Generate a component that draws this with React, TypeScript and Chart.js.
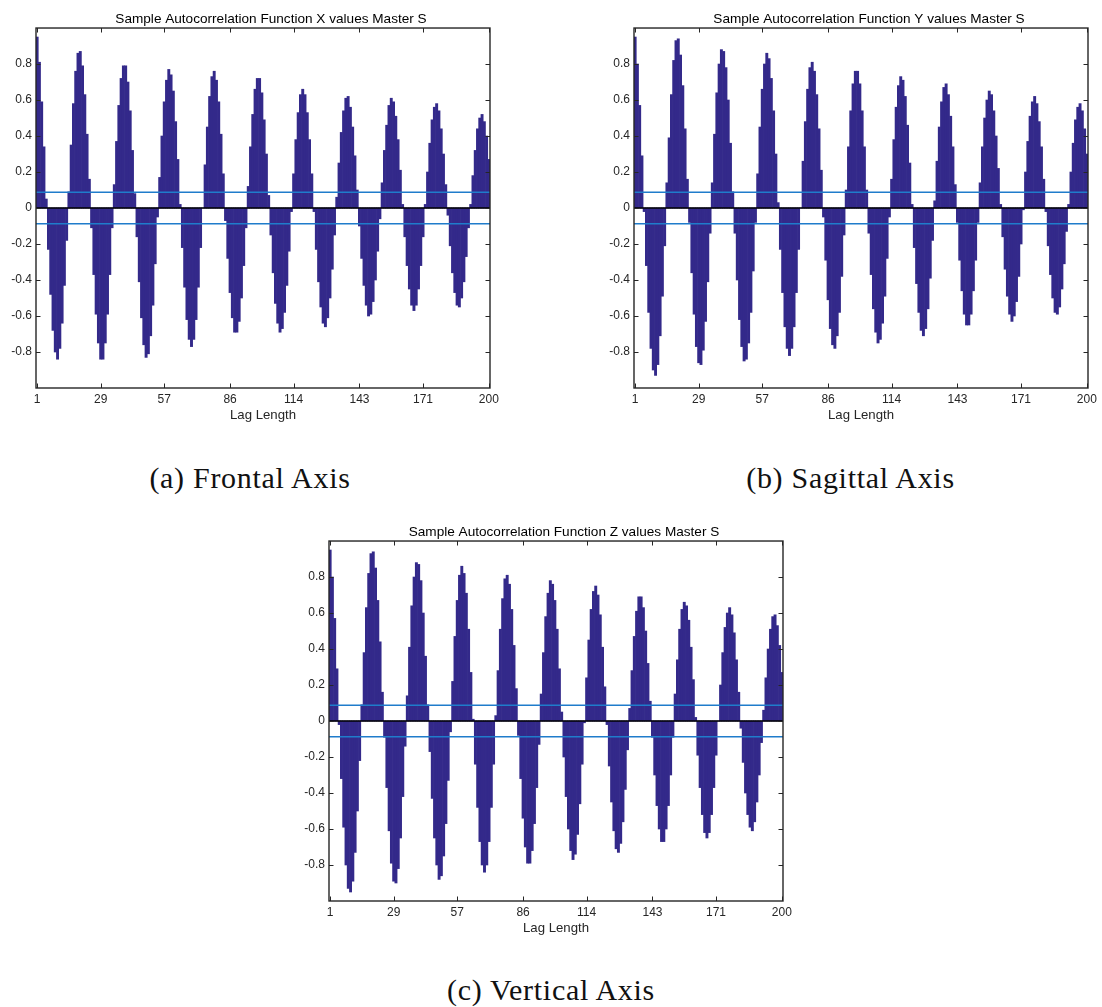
import React, { useEffect, useRef } from "react";
import { Chart, registerables } from "chart.js";

Chart.register(...registerables);

// Lag axis ticks and correlation ticks
const X_TICKS = [1, 29, 57, 86, 114, 143, 171, 200];
const Y_TICKS = [-0.8, -0.6, -0.4, -0.2, 0, 0.2, 0.4, 0.6, 0.8];

// Approximate 95% confidence bound of the sample autocorrelation
const CONF_BOUND = 0.0877;

// Sample autocorrelation, lags 1..200, frontal (X) signal
const ACF_X = [
  0.95, 0.81, 0.59, 0.34, 0.05, -0.23, -0.48, -0.68, -0.80, -0.84,
  -0.78, -0.64, -0.43, -0.18, 0.09, 0.35, 0.58, 0.76, 0.86, 0.87,
  0.79, 0.63, 0.41, 0.16, -0.11, -0.37, -0.59, -0.75, -0.84, -0.84,
  -0.75, -0.59, -0.37, -0.11, 0.13, 0.37, 0.57, 0.72, 0.79, 0.79,
  0.70, 0.54, 0.32, 0.08, -0.16, -0.41, -0.61, -0.76, -0.83, -0.81,
  -0.71, -0.54, -0.31, -0.05, 0.17, 0.40, 0.59, 0.71, 0.77, 0.74,
  0.65, 0.48, 0.27, 0.02, -0.22, -0.44, -0.62, -0.73, -0.77, -0.73,
  -0.62, -0.44, -0.22, 0.00, 0.24, 0.45, 0.62, 0.73, 0.76, 0.71,
  0.59, 0.41, 0.19, -0.07, -0.28, -0.47, -0.61, -0.69, -0.69, -0.63,
  -0.50, -0.32, -0.11, 0.12, 0.34, 0.52, 0.66, 0.72, 0.72, 0.64,
  0.49, 0.30, 0.07, -0.15, -0.36, -0.53, -0.64, -0.69, -0.67, -0.58,
  -0.43, -0.24, -0.02, 0.19, 0.38, 0.53, 0.63, 0.66, 0.63, 0.53,
  0.38, 0.19, -0.02, -0.23, -0.41, -0.55, -0.64, -0.66, -0.61, -0.50,
  -0.34, -0.15, 0.06, 0.25, 0.42, 0.54, 0.61, 0.62, 0.56, 0.45,
  0.29, 0.10, -0.10, -0.28, -0.43, -0.54, -0.60, -0.59, -0.52, -0.40,
  -0.24, -0.06, 0.14, 0.32, 0.46, 0.57, 0.61, 0.59, 0.51, 0.38,
  0.21, 0.02, -0.16, -0.32, -0.45, -0.54, -0.57, -0.54, -0.45, -0.32,
  -0.16, 0.02, 0.20, 0.36, 0.49, 0.56, 0.58, 0.54, 0.44, 0.30,
  0.13, -0.04, -0.21, -0.36, -0.47, -0.54, -0.55, -0.50, -0.41, -0.27,
  -0.11, 0.02, 0.18, 0.32, 0.44, 0.50, 0.52, 0.48, 0.40, 0.27,
];

// Sample autocorrelation, lags 1..200, sagittal (Y) signal
const ACF_Y = [
  0.95, 0.80, 0.57, 0.29, -0.02, -0.32, -0.58, -0.78, -0.90, -0.93,
  -0.87, -0.71, -0.49, -0.21, 0.14, 0.39, 0.63, 0.82, 0.93, 0.94,
  0.85, 0.68, 0.44, 0.16, -0.08, -0.36, -0.59, -0.77, -0.86, -0.87,
  -0.79, -0.63, -0.41, -0.14, 0.14, 0.41, 0.64, 0.80, 0.88, 0.87,
  0.78, 0.60, 0.36, 0.09, -0.14, -0.40, -0.62, -0.77, -0.85, -0.84,
  -0.75, -0.58, -0.35, -0.08, 0.19, 0.45, 0.66, 0.80, 0.86, 0.83,
  0.72, 0.54, 0.30, 0.03, -0.23, -0.47, -0.66, -0.78, -0.82, -0.78,
  -0.66, -0.47, -0.23, 0.00, 0.26, 0.48, 0.66, 0.78, 0.81, 0.76,
  0.63, 0.44, 0.21, -0.05, -0.29, -0.51, -0.67, -0.76, -0.78, -0.71,
  -0.58, -0.38, -0.15, 0.10, 0.34, 0.54, 0.69, 0.76, 0.76, 0.69,
  0.54, 0.34, 0.10, -0.14, -0.37, -0.56, -0.69, -0.75, -0.73, -0.64,
  -0.49, -0.28, -0.05, 0.16, 0.38, 0.56, 0.68, 0.73, 0.71, 0.62,
  0.46, 0.25, 0.02, -0.22, -0.42, -0.58, -0.68, -0.71, -0.67, -0.56,
  -0.39, -0.18, 0.04, 0.26, 0.45, 0.59, 0.67, 0.69, 0.63, 0.51,
  0.34, 0.13, -0.08, -0.29, -0.46, -0.59, -0.65, -0.65, -0.59, -0.46,
  -0.29, -0.08, 0.14, 0.34, 0.50, 0.60, 0.65, 0.63, 0.54, 0.40,
  0.22, 0.02, -0.16, -0.34, -0.49, -0.59, -0.63, -0.60, -0.52, -0.38,
  -0.20, -0.01, 0.20, 0.37, 0.51, 0.59, 0.62, 0.58, 0.48, 0.34,
  0.16, -0.02, -0.21, -0.37, -0.50, -0.58, -0.59, -0.55, -0.45, -0.31,
  -0.13, 0.02, 0.20, 0.36, 0.49, 0.56, 0.58, 0.54, 0.44, 0.30,
];

// Sample autocorrelation, lags 1..200, vertical (Z) signal
const ACF_Z = [
  0.95, 0.80, 0.57, 0.29, -0.02, -0.32, -0.59, -0.80, -0.93, -0.95,
  -0.89, -0.73, -0.50, -0.22, 0.09, 0.38, 0.63, 0.82, 0.93, 0.94,
  0.85, 0.67, 0.44, 0.16, -0.09, -0.37, -0.61, -0.79, -0.89, -0.90,
  -0.82, -0.65, -0.42, -0.14, 0.14, 0.41, 0.64, 0.80, 0.88, 0.87,
  0.78, 0.60, 0.36, 0.09, -0.17, -0.43, -0.65, -0.80, -0.88, -0.86,
  -0.75, -0.57, -0.33, -0.06, 0.22, 0.47, 0.67, 0.81, 0.86, 0.82,
  0.71, 0.51, 0.27, 0.01, -0.24, -0.48, -0.67, -0.80, -0.84, -0.80,
  -0.67, -0.48, -0.24, 0.03, 0.28, 0.51, 0.68, 0.79, 0.81, 0.76,
  0.62, 0.42, 0.18, -0.08, -0.32, -0.54, -0.70, -0.79, -0.79, -0.72,
  -0.57, -0.37, -0.13, 0.15, 0.38, 0.58, 0.71, 0.78, 0.76, 0.67,
  0.51, 0.29, 0.05, -0.20, -0.42, -0.60, -0.72, -0.77, -0.74, -0.63,
  -0.46, -0.24, -0.01, 0.24, 0.45, 0.62, 0.72, 0.75, 0.70, 0.59,
  0.41, 0.19, -0.02, -0.25, -0.45, -0.61, -0.71, -0.73, -0.68, -0.56,
  -0.38, -0.16, 0.07, 0.28, 0.47, 0.61, 0.69, 0.69, 0.63, 0.50,
  0.32, 0.11, -0.09, -0.30, -0.47, -0.60, -0.67, -0.67, -0.60, -0.47,
  -0.30, -0.09, 0.15, 0.34, 0.51, 0.62, 0.66, 0.64, 0.56, 0.41,
  0.23, 0.02, -0.19, -0.37, -0.52, -0.62, -0.65, -0.62, -0.52, -0.37,
  -0.19, 0.00, 0.20, 0.38, 0.52, 0.60, 0.63, 0.59, 0.49, 0.34,
  0.16, -0.04, -0.23, -0.40, -0.52, -0.59, -0.61, -0.56, -0.45, -0.30,
  -0.12, 0.06, 0.24, 0.40, 0.51, 0.58, 0.59, 0.53, 0.42, 0.27,
];

const BAR_COLOR = "#33298a";
const BOUND_COLOR = "#1f7ccb";
const AXIS_COLOR = "#262626";
const SANS = "'Liberation Sans', Arial, Helvetica, sans-serif";
const SERIF = "'Liberation Serif', 'Times New Roman', serif";

const CANVAS_W = 542;
const CANVAS_H = 430;
const TICK_LEN = 4.5;

// Box around the plot area with inward tick marks on all four sides
const frameTicks = {
  id: "frameTicks",
  afterDatasetsDraw(chart: any) {
    const { ctx, chartArea, scales } = chart;
    const { left, right, top, bottom } = chartArea;
    const x = scales.x;
    const y = scales.y;
    ctx.save();
    ctx.strokeStyle = AXIS_COLOR;
    ctx.lineWidth = 1;
    ctx.beginPath();
    for (const t of X_TICKS) {
      const px = Math.round(x.getPixelForValue(t)) + 0.5;
      ctx.moveTo(px, bottom);
      ctx.lineTo(px, bottom - TICK_LEN);
      ctx.moveTo(px, top);
      ctx.lineTo(px, top + TICK_LEN);
    }
    for (const t of Y_TICKS) {
      const py = Math.round(y.getPixelForValue(t)) + 0.5;
      ctx.moveTo(left, py);
      ctx.lineTo(left + TICK_LEN, py);
      ctx.moveTo(right, py);
      ctx.lineTo(right - TICK_LEN, py);
    }
    ctx.stroke();
    ctx.lineWidth = 1.4;
    ctx.strokeRect(left, top, right - left, bottom - top);
    ctx.restore();
  },
};

function hLine(value: number, color: string, width: number, order: number) {
  return {
    type: "line" as const,
    data: [
      { x: 0.5, y: value },
      { x: 200.5, y: value },
    ],
    borderColor: color,
    borderWidth: width,
    pointRadius: 0,
    pointHoverRadius: 0,
    fill: false,
    order,
  };
}

function AcfChart({
  title,
  values,
  left,
  top,
}: {
  title: string;
  values: number[];
  left: number;
  top: number;
}) {
  const ref = useRef<HTMLCanvasElement>(null);

  useEffect(() => {
    if (!ref.current) return;
    const chart = new Chart(ref.current, {
      type: "bar",
      data: {
        datasets: [
          {
            type: "bar",
            data: values.map((v, i) => ({ x: i + 1, y: v })),
            backgroundColor: BAR_COLOR,
            borderWidth: 0,
            barPercentage: 1,
            categoryPercentage: 1,
            order: 4,
          } as any,
          hLine(CONF_BOUND, BOUND_COLOR, 1.5, 2),
          hLine(-CONF_BOUND, BOUND_COLOR, 1.5, 2),
          hLine(0, "#000000", 1.6, 1),
        ],
      },
      options: {
        animation: false,
        responsive: false,
        maintainAspectRatio: false,
        layout: { padding: 0 },
        plugins: {
          legend: { display: false },
          tooltip: { enabled: false },
          title: {
            display: true,
            text: title,
            color: "#000000",
            font: { family: SANS, size: 13.6, weight: "normal" },
            padding: { top: 11.4, bottom: 0.3 },
          },
        },
        scales: {
          x: {
            type: "linear",
            min: 0.5,
            max: 200.5,
            offset: false,
            grid: { display: false, drawTicks: false },
            border: { display: false },
            afterBuildTicks: (scale: any) => {
              scale.ticks = X_TICKS.map((v) => ({ value: v }));
            },
            afterFit: (scale: any) => {
              scale.height = 42;
            },
            ticks: {
              autoSkip: false,
              maxRotation: 0,
              padding: 4.5,
              color: AXIS_COLOR,
              font: { family: SANS, size: 12 },
              callback: (v: any) => String(v),
            },
            title: {
              display: true,
              text: "Lag Length",
              color: AXIS_COLOR,
              font: { family: SANS, size: 13.2 },
              padding: { top: 0, bottom: 7 },
            },
          },
          y: {
            type: "linear",
            min: -1,
            max: 1,
            grid: { display: false, drawTicks: false },
            border: { display: false },
            afterBuildTicks: (scale: any) => {
              scale.ticks = Y_TICKS.map((v) => ({ value: v }));
            },
            afterFit: (scale: any) => {
              scale.width = 36;
            },
            ticks: {
              autoSkip: false,
              padding: 4,
              color: AXIS_COLOR,
              font: { family: SANS, size: 12 },
              callback: (v: any) => String(v),
            },
          },
          // empty right-hand gutter so the title centres on the whole canvas
          gutter: {
            type: "linear",
            position: "right",
            display: true,
            grid: { display: false, drawTicks: false },
            border: { display: false },
            ticks: { display: false },
            afterFit: (scale: any) => {
              scale.width = 52;
            },
          },
        },
      },
      plugins: [frameTicks],
    } as any);
    return () => chart.destroy();
  }, [title, values]);

  return (
    <canvas
      ref={ref}
      width={CANVAS_W}
      height={CANVAS_H}
      style={{
        position: "absolute",
        left,
        top,
        width: CANVAS_W,
        height: CANVAS_H,
        display: "block",
      }}
    />
  );
}

function Caption({ text, center, top }: { text: string; center: number; top: number }) {
  const w = 400;
  return (
    <div
      style={{
        position: "absolute",
        left: center - w / 2,
        top,
        width: w,
        textAlign: "center",
        fontFamily: SERIF,
        fontSize: 30,
        lineHeight: "30px",
        letterSpacing: "0.7px",
        color: "#111111",
        whiteSpace: "nowrap",
      }}
    >
      {text}
    </div>
  );
}

export default function App() {
  return (
    <div
      style={{
        position: "absolute",
        left: 0,
        top: 0,
        width: 1102,
        height: 1007,
        background: "#ffffff",
        overflow: "hidden",
      }}
    >
      <AcfChart
        title="Sample Autocorrelation Function X values Master S"
        values={ACF_X}
        left={0}
        top={0}
      />
      <AcfChart
        title="Sample Autocorrelation Function Y values Master S"
        values={ACF_Y}
        left={598.3}
        top={0}
      />
      <AcfChart
        title="Sample Autocorrelation Function Z values Master S"
        values={ACF_Z}
        left={293.3}
        top={512.5}
      />
      <Caption text="(a) Frontal Axis" center={250} top={463} />
      <Caption text="(b) Sagittal Axis" center={850.5} top={463} />
      <Caption text="(c) Vertical Axis" center={551} top={975} />
    </div>
  );
}
